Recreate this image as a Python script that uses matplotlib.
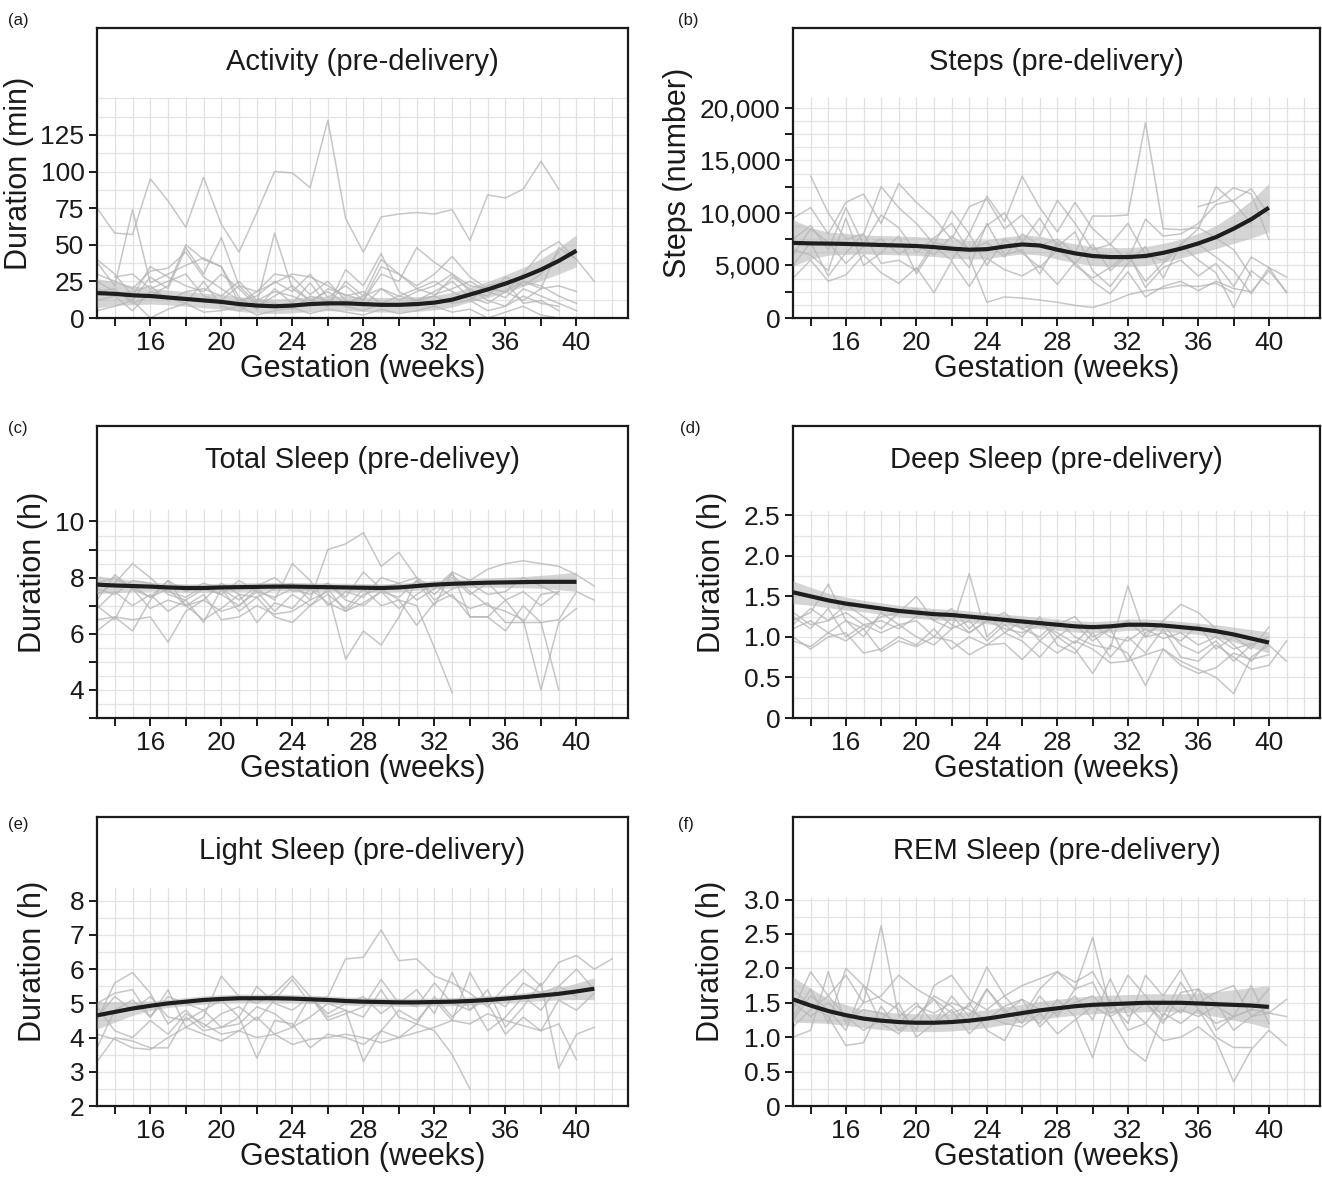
import numpy as np
import matplotlib
matplotlib.use('Agg')
import matplotlib.pyplot as plt

plt.rcParams['font.family'] = ['Liberation Sans', 'DejaVu Sans']

# weeks used by the smoothed fits
fit_weeks = list(range(13, 41))
fit_weeks_light = list(range(13, 42))

# (a) activity, minutes per day (one list per participant, first week in *_start)
act_start = [13, 13, 13, 13, 13, 13, 14, 13, 13, 13]
act_lines = [
    [75, 58, 57, 95, 80, 62, 96, 64, 45, 72, 100, 99, 89, 135, 68, 45, 69, 71, 72, 71, 74, 53, 84, 82, 88, 107, 88],
    [38, 22, 74, 24, 30, 36, 41, 35, 10, 18, 30, 28, 16, 25, 12, 8, 20, 15, 12, 18, 25, 14, 10, 18, 12, 20, 48, 40, 25],
    [25, 18, 12, 28, 20, 48, 30, 55, 22, 10, 58, 20, 12, 8, 25, 15, 40, 30, 22, 30, 42, 28, 20, 18, 25, 22, 15, 10],
    [18, 20, 10, 15, 22, 50, 40, 35, 14, 6, 20, 10, 24, 8, 33, 22, 44, 18, 12, 15, 28, 20, 12, 8, 15, 10, 8],
    [30, 25, 20, 32, 34, 45, 28, 20, 12, 15, 25, 18, 30, 14, 22, 12, 30, 25, 48, 38, 30, 22, 20, 18, 30, 45, 52, 40],
    [12, 15, 5, 18, 14, 10, 25, 8, 5, 12, 10, 6, 15, 12, 8, 5, 10, 8, 12, 15, 10, 12, 5, 8, 20, 15, 10, 5],
    [28, 30, 20, 25, 30, 15, 12, 22, 18, 24, 30, 28, 22, 15, 18, 10, 15, 20, 25, 18, 12, 22, 25, 10, 12, 5],
    [5, 8, 12, 0, 6, 10, 4, 5, 8, 2, 5, 7, 3, 6, 4, 2, 6, 3, 5, 8, 4, 6, 0, 4, 8, 2, 0],
    [20, 16, 18, 22, 12, 18, 20, 15, 25, 12, 18, 15, 10, 20, 16, 12, 35, 30, 20, 16, 20, 25, 18, 14, 25, 20, 22, 18],
    [40, 30, 15, 35, 28, 22, 18, 30, 20, 8, 15, 22, 12, 18, 10, 15, 20, 12, 18, 22, 30, 18, 15, 28, 22, 30, 45],
]
act_fit = [17, 16.5, 15.5, 15, 14, 13, 12, 11, 9.5, 8.5, 8, 8.5, 9.5, 10, 10, 9.5, 9, 9, 9.5, 10.5,
           12.5, 16, 19.5, 23.5, 28, 33, 39, 46]
act_ci = [10, 8, 6.5, 5.5, 5, 5, 5, 5, 5, 5, 5, 5, 5, 5, 5, 5, 5, 5, 5, 5, 5, 5, 5.5, 6, 6.5, 7.5, 9, 11]

# (b) steps per day
steps_start = [13, 14, 13, 13, 13, 23, 13, 36, 13]
steps_lines = [
    [6000, 8500, 7200, 5200, 6800, 7500, 6100, 7000, 6000, 7800, 6500, 7200, 5800, 8000, 6900, 7500, 6200, 9700,
     9700, 9800, 18600, 8500, 8400, 8600, 7600, 6500, 4000],
    [13500, 10000, 7500, 8000, 12500, 10500, 9000, 7000, 10200, 8000, 11600, 9200, 13500, 10500, 8200, 11000,
     8500, 7000, 9000, 6000, 5500, 7000, 8500, 12500, 11000, 9000],
    [9500, 10500, 8000, 11000, 11800, 9000, 12800, 11000, 9500, 7500, 10600, 11300, 8500, 9800, 7800, 11200,
     9000, 6500, 7000, 5500, 9400, 7800, 8000, 9000, 10800, 11200, 12300, 9800],
    [5000, 7200, 4000, 6200, 8000, 5200, 5500, 4500, 7200, 6800, 4800, 9000, 6000, 6500, 4200, 7200, 5000, 3800,
     4800, 6200, 2900, 4800, 5500, 4000, 5200, 3000, 5800, 4800, 3900],
    [3800, 5500, 3500, 4100, 6000, 4300, 3300, 4800, 2400, 5400, 3000, 5700, 4600, 4000, 5000, 3200, 5300, 3500,
     2300, 4400, 2000, 3000, 3500, 2600, 3500, 2800, 2500, 4500, 2500],
    [5800, 1500, 2000, 1900, 1700, 1500, 1200, 1000, 1500, 2200, 2600, 2800, 3100, 3000, 3300, 2400],
    [6500, 6000, 4500, 9500, 5000, 6200, 7800, 4200, 6800, 5500, 8000, 5000, 7500, 6200, 4800, 6500, 5200, 7000,
     4500, 6000, 3500, 5200, 6800, 7000, 5800, 4500, 2300, 4800, 2400],
    [10600, 11100, 12400, 11800, 7500],
    [7500, 8800, 6500, 10500, 7000, 9800, 8600, 6200, 7600, 9000, 6400, 8800, 10000, 7200, 9500, 6800, 8200, 4500,
     3000, 5200, 6800, 3800, 7000, 5500, 4300, 1000, 4500, 3200],
]
steps_fit = [7150, 7100, 7080, 7050, 7000, 6950, 6900, 6850, 6750, 6600, 6500, 6550, 6800, 7000, 6900, 6500,
             6150, 5900, 5800, 5800, 5900, 6200, 6600, 7100, 7700, 8500, 9400, 10500]
steps_ci = [2200, 1500, 1100, 1000, 900, 900, 900, 900, 900, 900, 900, 900, 900, 900, 900, 900, 900, 900, 900,
            900, 900, 900, 900, 950, 1100, 1400, 1800, 2300]

# (c) total sleep, hours
total_start = [13, 13, 13, 13, 13, 13, 13, 13]
total_lines = [
    [7.0, 6.5, 7.7, 7.3, 7.6, 7.0, 7.2, 7.8, 7.4, 7.3, 7.6, 7.8, 7.2, 9.0, 9.2, 9.6, 8.4, 8.9, 8.0, 7.2, 7.6, 7.8,
     7.4, 7.5, 8.0, 7.7, 7.4],
    [6.1, 6.6, 6.5, 6.6, 5.7, 6.8, 7.2, 6.8, 7.0, 7.5, 6.8, 7.4, 7.0, 7.4, 6.9, 7.6, 7.0, 7.2, 7.0, 5.5, 3.9],
    [7.4, 7.8, 8.5, 8.0, 7.4, 7.2, 7.6, 7.4, 7.0, 7.6, 7.2, 8.5, 7.9, 7.0, 7.5, 7.3, 8.0, 7.8, 7.2, 7.6, 8.1, 7.5,
     7.0, 6.8, 6.5, 4.0, 6.4, 6.9],
    [6.5, 6.6, 6.1, 7.2, 7.9, 7.0, 7.4, 6.5, 6.6, 7.0, 6.7, 6.8, 7.2, 7.5, 5.1, 6.1, 5.6, 6.6, 7.9, 7.0, 8.2, 6.6,
     6.6, 7.2, 6.4, 6.4, 4.0],
    [7.8, 8.0, 7.6, 7.3, 7.9, 7.5, 7.8, 7.6, 7.2, 7.7, 8.0, 7.5, 7.6, 7.8, 7.3, 8.2, 7.6, 7.8, 8.0, 7.6, 8.2, 7.9,
     8.3, 8.5, 8.6, 8.5, 8.4, 8.1, 7.7],
    [7.2, 8.1, 7.6, 6.9, 7.2, 7.0, 6.5, 6.9, 7.4, 6.4, 7.1, 6.9, 7.6, 7.1, 6.8, 7.4, 7.6, 7.2, 6.3, 7.1, 7.4, 6.6,
     6.6, 6.1, 7.0, 6.4, 6.5, 7.5, 7.2],
    [7.6, 7.4, 7.9, 7.8, 7.5, 7.3, 7.7, 7.4, 7.9, 7.5, 7.3, 7.6, 7.4, 7.8, 7.2, 7.0, 7.5, 7.3, 7.9, 7.4, 8.0, 7.4,
     7.8, 7.2, 7.5, 7.0, 7.5],
    [6.9, 7.5, 7.0, 7.4, 6.8, 7.2, 6.4, 7.6, 6.8, 7.3, 6.6, 6.4, 7.0, 7.6, 6.8, 7.1, 7.5, 6.9, 7.4, 7.8, 7.3, 6.9,
     7.1, 6.4, 6.4, 7.4, 7.5],
]
total_fit = [7.75, 7.72, 7.70, 7.68, 7.65, 7.63, 7.63, 7.65, 7.66, 7.67, 7.68, 7.68, 7.67, 7.66, 7.65, 7.64,
             7.63, 7.65, 7.70, 7.75, 7.78, 7.80, 7.82, 7.83, 7.84, 7.85, 7.85, 7.85]
total_ci = [0.32, 0.25, 0.20, 0.16, 0.15, 0.15, 0.15, 0.15, 0.15, 0.15, 0.15, 0.15, 0.15, 0.15, 0.15, 0.15, 0.15,
            0.15, 0.15, 0.15, 0.15, 0.15, 0.16, 0.18, 0.20, 0.23, 0.28, 0.34]

# (d) deep sleep, hours
deep_start = [13, 13, 13, 13, 13, 13, 13]
deep_lines = [
    [1.2, 1.3, 1.65, 1.2, 1.1, 1.25, 1.3, 1.35, 1.2, 1.1, 1.78, 1.0, 1.2, 1.1, 1.0, 1.2, 1.0, 0.9, 0.85, 1.63,
     1.0, 1.2, 1.4, 1.3, 1.1, 0.9, 0.7, 0.95],
    [1.0, 0.85, 1.0, 1.05, 0.8, 0.85, 1.0, 0.9, 1.1, 0.85, 1.0, 0.9, 1.05, 0.95, 0.75, 1.0, 0.85, 0.55, 0.9, 0.8,
     0.4, 0.85, 0.7, 0.6, 0.5, 0.3, 0.75, 0.9, 0.7],
    [1.3, 1.15, 1.2, 1.4, 1.25, 1.1, 1.3, 1.5, 1.2, 1.35, 1.1, 1.3, 1.05, 1.2, 0.95, 1.15, 1.25, 1.0, 1.1, 0.7,
     1.05, 1.15, 0.9, 0.8, 0.95, 0.7, 0.9, 1.0],
    [1.1, 1.2, 1.05, 1.2, 1.0, 1.3, 1.15, 1.0, 0.9, 1.1, 1.2, 0.95, 1.15, 1.0, 1.25, 0.9, 0.8, 1.05, 0.75, 1.0,
     0.8, 1.1, 0.75, 0.7, 0.9, 0.75, 0.6, 0.65, 0.95],
    [1.25, 1.1, 1.35, 1.0, 1.15, 1.05, 1.15, 1.2, 1.0, 1.25, 1.05, 1.2, 1.3, 1.1, 1.2, 1.0, 1.15, 0.95, 1.1, 1.2,
     1.0, 1.05, 0.95, 1.15, 0.85, 1.0, 0.85, 1.12],
    [0.95, 0.88, 1.05, 0.95, 1.1, 0.82, 0.95, 0.88, 1.0, 0.95, 0.78, 0.9, 0.92, 0.72, 0.95, 0.8, 0.95, 0.85, 0.68,
     0.7, 0.78, 0.85, 0.65, 0.55, 0.62, 0.8, 0.72, 0.78],
    [1.15, 1.35, 1.2, 1.3, 1.15, 1.2, 1.1, 1.25, 1.32, 1.15, 1.05, 1.2, 1.1, 1.05, 1.15, 1.05, 0.92, 1.15, 1.0,
     0.95, 1.1, 0.98, 1.05, 0.9, 1.0, 0.85, 0.92],
]
deep_fit = [1.55, 1.50, 1.45, 1.41, 1.38, 1.35, 1.32, 1.30, 1.28, 1.27, 1.25, 1.23, 1.21, 1.19, 1.17, 1.15,
            1.13, 1.12, 1.13, 1.15, 1.15, 1.14, 1.12, 1.10, 1.07, 1.03, 0.98, 0.93]
deep_ci = [0.14, 0.11, 0.09, 0.08, 0.07, 0.07, 0.07, 0.07, 0.07, 0.07, 0.07, 0.07, 0.07, 0.07, 0.07, 0.07, 0.07,
           0.07, 0.07, 0.07, 0.07, 0.07, 0.07, 0.07, 0.08, 0.09, 0.11, 0.13]

# (e) light sleep, hours
light_start = [13, 13, 13, 13, 13, 13, 13]
light_lines = [
    [4.5, 5.6, 5.9, 5.3, 4.4, 4.8, 4.3, 4.7, 4.9, 4.5, 5.1, 5.7, 5.0, 5.2, 6.3, 6.35, 7.15, 6.25, 6.3, 5.8, 5.6,
     5.3, 4.9, 5.5, 6.0, 5.5, 6.2, 6.4, 6.0, 6.3],
    [3.3, 4.0, 3.9, 3.7, 3.7, 4.6, 4.2, 4.3, 4.6, 3.4, 4.5, 4.4, 3.7, 4.1, 4.0, 3.8, 4.2, 4.0, 4.4, 4.2, 3.5, 2.5],
    [3.7, 4.8, 5.1, 4.6, 5.4, 4.3, 4.6, 5.8, 5.2, 5.0, 5.3, 5.8, 5.2, 4.5, 4.7, 4.9, 5.7, 5.0, 5.4, 4.7, 5.9, 4.8,
     5.4, 4.3, 4.9, 5.6, 3.1, 4.1, 4.3],
    [4.9, 4.2, 4.0, 4.5, 4.1, 4.7, 4.4, 4.1, 4.2, 4.6, 4.1, 4.3, 4.6, 5.0, 4.8, 3.3, 4.2, 4.8, 4.5, 5.1, 4.5, 5.9,
     5.0, 4.1, 4.6, 4.2, 5.1, 4.8, 5.3],
    [5.0, 5.3, 5.4, 4.6, 5.2, 5.0, 4.8, 5.1, 4.6, 5.5, 5.0, 4.8, 5.2, 4.7, 5.0, 5.2, 4.7, 5.1, 4.9, 5.6, 5.0, 4.8,
     5.2, 4.9, 5.6, 5.3, 5.5, 5.2],
    [4.1, 3.95, 3.7, 3.65, 4.0, 4.3, 4.1, 3.9, 4.2, 4.0, 4.1, 3.8, 3.95, 4.0, 4.1, 4.0, 3.85, 4.0, 4.15, 4.3, 4.5,
     4.4, 4.7, 4.5, 4.35, 4.2, 4.4, 3.35],
    [4.6, 5.2, 4.8, 5.2, 4.6, 4.5, 4.8, 4.3, 4.4, 4.9, 4.7, 4.3, 5.2, 4.6, 4.8, 4.6, 5.4, 4.6, 4.4, 5.2, 4.6, 5.1,
     4.2, 4.6, 5.2, 4.8, 5.5, 6.0, 5.4],
]
light_fit = [4.65, 4.75, 4.85, 4.93, 5.00, 5.05, 5.10, 5.13, 5.15, 5.15, 5.15, 5.14, 5.12, 5.10, 5.07, 5.05,
             5.04, 5.03, 5.03, 5.04, 5.05, 5.07, 5.10, 5.14, 5.18, 5.23, 5.28, 5.35, 5.43]
light_ci = [0.40, 0.30, 0.20, 0.14, 0.12, 0.12, 0.12, 0.12, 0.12, 0.12, 0.12, 0.12, 0.12, 0.12, 0.12, 0.12, 0.12,
            0.12, 0.12, 0.12, 0.12, 0.12, 0.12, 0.12, 0.13, 0.15, 0.18, 0.24, 0.32]

# (f) REM sleep, hours
rem_start = [13, 13, 13, 13, 13, 13, 13]
rem_lines = [
    [1.0, 1.1, 1.95, 1.2, 1.5, 2.62, 1.3, 1.5, 1.2, 1.6, 1.3, 1.7, 1.4, 1.2, 1.6, 1.3, 1.7, 2.45, 1.4, 1.9, 1.6,
     1.3, 1.8, 1.4, 1.2, 1.3, 1.75, 1.2],
    [1.4, 1.95, 1.6, 1.9, 1.5, 1.6, 1.9, 1.7, 1.55, 1.35, 1.45, 2.02, 1.6, 1.3, 1.7, 1.95, 1.8, 1.95, 1.5, 1.2,
     1.9, 1.6, 1.98, 1.5, 1.65, 1.75, 1.3, 1.35, 1.55],
    [1.7, 1.45, 1.3, 0.88, 0.92, 1.45, 1.1, 1.3, 1.55, 1.2, 1.5, 1.1, 0.95, 1.4, 1.2, 1.55, 1.3, 0.7, 1.55, 1.1,
     1.2, 0.95, 1.0, 1.15, 0.95, 0.35, 0.82, 1.1, 0.88],
    [1.25, 1.6, 1.4, 1.1, 1.75, 1.2, 1.05, 1.3, 1.6, 1.45, 1.2, 1.7, 1.35, 1.55, 1.15, 1.4, 1.6, 1.25, 1.85, 1.3,
     1.5, 1.2, 1.65, 1.7, 1.1, 1.3, 1.4, 1.7],
    [1.3, 1.7, 1.2, 2.0, 1.75, 1.55, 1.4, 1.1, 1.75, 1.9, 1.55, 1.4, 1.6, 1.75, 1.85, 1.95, 1.7, 1.8, 1.3, 1.45,
     1.2, 1.55, 1.35, 1.7, 1.5, 1.1, 1.3, 1.45],
    [1.15, 1.4, 1.6, 1.3, 1.1, 1.25, 1.5, 1.0, 1.2, 1.4, 1.05, 1.3, 1.2, 1.15, 1.35, 1.05, 1.25, 1.45, 1.3, 0.85,
     0.65, 1.35, 1.2, 1.4, 1.0, 0.85, 0.85],
    [1.5, 1.3, 1.5, 1.25, 1.4, 1.35, 1.2, 1.45, 1.35, 1.5, 1.4, 1.25, 1.45, 1.55, 1.4, 1.35, 1.5, 1.6, 1.35, 1.45,
     1.5, 1.25, 1.4, 1.3, 1.45, 1.3, 1.4, 1.35, 1.3],
]
rem_fit = [1.55, 1.46, 1.38, 1.32, 1.27, 1.24, 1.22, 1.21, 1.21, 1.22, 1.24, 1.27, 1.31, 1.35, 1.39, 1.42,
           1.45, 1.47, 1.48, 1.49, 1.50, 1.50, 1.50, 1.49, 1.48, 1.47, 1.46, 1.44]
rem_ci = [0.33, 0.25, 0.18, 0.15, 0.13, 0.13, 0.13, 0.13, 0.13, 0.13, 0.13, 0.13, 0.13, 0.13, 0.13, 0.13, 0.13,
          0.13, 0.13, 0.13, 0.13, 0.13, 0.13, 0.15, 0.18, 0.22, 0.26, 0.31]

xticks = list(range(14, 41, 2))
xticklabels = [str(w) if w % 4 == 0 else '' for w in xticks]

W, H = 1322, 1178
fig = plt.figure(figsize=(W / 100, H / 100), dpi=100)


def box(left, top, right, bottom):
    return [left / W, 1 - bottom / H, (right - left) / W, (bottom - top) / H]


panels = [
    dict(tag='(a)', tagxy=(18, 20), rect=box(97, 28, 628, 318), title='Activity (pre-delivery)',
         ylabel='Duration (min)', labx=-0.118, start=act_start, lines=act_lines, fx=fit_weeks,
         fit=act_fit, ci=act_ci, ylim=(0, 198), gtop=150, gstep=12.5,
         yticks=[0, 25, 50, 75, 100, 125], ylabels=['0', '25', '50', '75', '100', '125'], yminor=[]),
    dict(tag='(b)', tagxy=(688, 20), rect=box(793, 28, 1320, 318), title='Steps (pre-delivery)',
         ylabel='Steps (number)', labx=-0.19, start=steps_start, lines=steps_lines, fx=fit_weeks,
         fit=steps_fit, ci=steps_ci, ylim=(0, 27600), gtop=20950, gstep=1250,
         yticks=[0, 5000, 10000, 15000, 20000], ylabels=['0', '5,000', '10,000', '15,000', '20,000'],
         yminor=[2500, 7500, 12500, 17500]),
    dict(tag='(c)', tagxy=(18, 428), rect=box(97, 426, 628, 718), title='Total Sleep (pre-delivey)',
         ylabel='Duration (h)', labx=-0.092, start=total_start, lines=total_lines, fx=fit_weeks,
         fit=total_fit, ci=total_ci, ylim=(3, 13.4), gtop=10.4, gstep=0.5,
         yticks=[4, 6, 8, 10], ylabels=['4', '6', '8', '10'], yminor=[3, 5, 7, 9]),
    dict(tag='(d)', tagxy=(690, 428), rect=box(793, 426, 1320, 718), title='Deep Sleep (pre-delivery)',
         ylabel='Duration (h)', labx=-0.125, start=deep_start, lines=deep_lines, fx=fit_weeks,
         fit=deep_fit, ci=deep_ci, ylim=(0, 3.6), gtop=2.55, gstep=0.25,
         yticks=[0, 0.5, 1.0, 1.5, 2.0, 2.5], ylabels=['0', '0.5', '1.0', '1.5', '2.0', '2.5'], yminor=[]),
    dict(tag='(e)', tagxy=(18, 824), rect=box(97, 817, 628, 1106), title='Light Sleep (pre-delivery)',
         ylabel='Duration (h)', labx=-0.092, start=light_start, lines=light_lines, fx=fit_weeks_light,
         fit=light_fit, ci=light_ci, ylim=(2, 10.45), gtop=8.38, gstep=0.5,
         yticks=[2, 3, 4, 5, 6, 7, 8], ylabels=['2', '3', '4', '5', '6', '7', '8'], yminor=[]),
    dict(tag='(f)', tagxy=(686, 824), rect=box(793, 817, 1320, 1106), title='REM Sleep (pre-delivery)',
         ylabel='Duration (h)', labx=-0.127, start=rem_start, lines=rem_lines, fx=fit_weeks,
         fit=rem_fit, ci=rem_ci, ylim=(0, 4.2), gtop=3.02, gstep=0.25,
         yticks=[0, 0.5, 1.0, 1.5, 2.0, 2.5, 3.0], ylabels=['0', '0.5', '1.0', '1.5', '2.0', '2.5', '3.0'],
         yminor=[]),
]

for p in panels:
    ax = fig.add_axes(p['rect'])
    x0, x1 = 13.0, 42.9
    y0, y1 = p['ylim']
    ax.set_xlim(x0, x1)
    ax.set_ylim(y0, y1)

    # grid only covers the data region, title sits in the blank band above it
    for gy in np.arange(y0, p['gtop'] + 1e-9, p['gstep']):
        ax.plot([x0, x1], [gy, gy], color='#e4e4e4', lw=0.9, zorder=0)
    for gx in range(14, 43):
        ax.plot([gx, gx], [y0, p['gtop']], color='#e1e1e1', lw=0.9, zorder=0)

    for s, vals in zip(p['start'], p['lines']):
        wk = np.arange(s, s + len(vals))
        ax.plot(wk, vals, color='#b4b4b4', lw=1.1, alpha=0.75, zorder=2)

    fx = np.array(p['fx'])
    fit = np.array(p['fit'])
    ci = np.array(p['ci'])
    ax.fill_between(fx, fit - ci, fit + ci, color='#b9b9b9', alpha=0.6, lw=0, zorder=3)
    ax.plot(fx, fit, color='#1e1e1e', lw=3.0, zorder=4, solid_capstyle='butt')

    ax.set_xticks(xticks)
    ax.set_xticklabels(xticklabels)
    ax.set_yticks(p['yticks'])
    ax.set_yticklabels(p['ylabels'])
    if p['yminor']:
        ax.set_yticks(p['yminor'], minor=True)
    ax.tick_params(axis='both', which='both', direction='out', length=6, width=1.4,
                   colors='#1a1a1a', labelsize=19, pad=3)
    ax.tick_params(axis='x', which='minor', length=0)
    for sp in ax.spines.values():
        sp.set_linewidth(1.6)
        sp.set_color('#1a1a1a')

    ax.set_xlabel('Gestation (weeks)', fontsize=22, color='#1a1a1a')
    ax.xaxis.set_label_coords(0.5, -0.125)
    ax.set_ylabel(p['ylabel'], fontsize=22, color='#1a1a1a')
    ax.yaxis.set_label_coords(p['labx'], 0.5)

    ax.text(0.5, 1 - 34 / (p['rect'][3] * H), p['title'], transform=ax.transAxes,
            ha='center', va='center', fontsize=21, color='#1a1a1a')
    fig.text(p['tagxy'][0] / W, 1 - p['tagxy'][1] / H, p['tag'], ha='center', va='center',
             fontsize=12, color='#1a1a1a')

fig.savefig('out.png', dpi=100, facecolor='white')
